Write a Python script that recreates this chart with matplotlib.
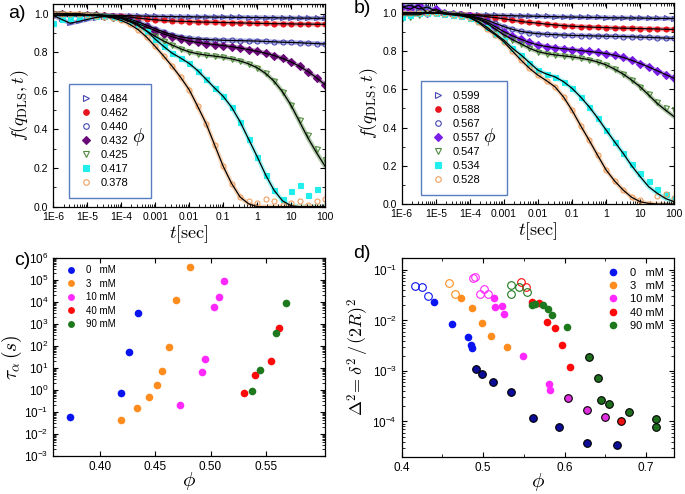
import numpy as np
import matplotlib
matplotlib.use('Agg')
import matplotlib.pyplot as plt
from matplotlib.lines import Line2D
from matplotlib.patches import Rectangle
from matplotlib.ticker import FixedLocator, FixedFormatter, LogLocator, NullFormatter, MultipleLocator

plt.rcParams['font.family'] = ['Liberation Sans', 'DejaVu Sans']
plt.rcParams['mathtext.fontset'] = 'custom'
plt.rcParams['mathtext.rm'] = 'Liberation Sans'
plt.rcParams['mathtext.it'] = 'Liberation Sans:italic'
plt.rcParams['xtick.direction'] = 'in'
plt.rcParams['ytick.direction'] = 'in'
plt.rcParams['xtick.top'] = True
plt.rcParams['ytick.right'] = True
plt.rcParams['axes.linewidth'] = 0.9

nan = np.nan

## ---------------- data : panel a / b  (correlation functions) ----------------
t = [1e-6, 1.78e-6, 3.16e-6, 5.62e-6, 1e-5, 1.78e-5, 3.16e-5, 5.62e-5,
     1e-4, 1.78e-4, 3.16e-4, 5.62e-4, 1e-3, 1.78e-3, 3.16e-3, 5.62e-3,
     0.01, 0.0178, 0.0316, 0.0562, 0.1, 0.178, 0.316, 0.562,
     1, 1.78, 3.16, 5.62, 10, 17.8, 31.6, 56.2, 100]

phi_a = ['0.484', '0.462', '0.440', '0.432', '0.425', '0.417', '0.378']
a484 = [0.99, 0.97, 0.95, 0.96, 0.97, 0.98, 0.985, 0.99, 0.99, 0.99, 0.988, 0.987, 0.986, 0.985, 0.985, 0.984, 0.984,
        0.983, 0.983, 0.982, 0.982, 0.981, 0.981, 0.980, 0.980, 0.979, 0.979, 0.978, 0.978, 0.977, 0.977, 0.976, 0.976]
a462 = [1.0, 1.0, 0.995, 0.995, 0.995, 0.995, 0.993, 0.99, 0.987, 0.982, 0.977, 0.972, 0.968, 0.965, 0.962, 0.96, 0.959,
        0.957, 0.956, 0.955, 0.954, 0.953, 0.952, 0.951, 0.950, 0.949, 0.948, 0.948, 0.947, 0.946, 0.946, 0.945, 0.945]
a440 = [1.0, 1.0, 0.995, 0.995, 0.995, 0.993, 0.99, 0.987, 0.982, 0.972, 0.957, 0.94, 0.922, 0.905, 0.891, 0.88, 0.873,
        0.869, 0.866, 0.864, 0.862, 0.861, 0.86, 0.859, 0.858, 0.856, 0.854, 0.852, 0.851, 0.849, 0.847, 0.845, 0.843]
a432 = [1.0, 1.0, 0.995, 0.995, 0.995, 0.993, 0.99, 0.985, 0.978, 0.965, 0.948, 0.93, 0.912, 0.895, 0.88, 0.868, 0.858,
        0.851, 0.845, 0.84, 0.835, 0.829, 0.822, 0.814, 0.805, 0.795, 0.783, 0.768, 0.75, 0.727, 0.7, 0.668, 0.632]
a425 = [1.0, 1.0, 0.995, 0.995, 0.995, 0.992, 0.988, 0.982, 0.974, 0.958, 0.937, 0.91, 0.882, 0.858, 0.837, 0.818, 0.802,
        0.792, 0.785, 0.78, 0.774, 0.766, 0.755, 0.74, 0.72, 0.69, 0.65, 0.595, 0.525, 0.45, 0.37, 0.30, 0.24]
a417 = [0.95, 0.97, 0.98, 0.985, 0.99, 0.99, 0.99, 0.985, 0.977, 0.962, 0.943, 0.91, 0.868, 0.83, 0.795, 0.77, 0.742,
        0.705, 0.66, 0.615, 0.572, 0.515, 0.44, 0.35, 0.26, 0.165, 0.085, 0.04, 0.08, 0.11, 0.06, 0.09, nan]
a378 = [1.0, 1.0, 1.0, 1.0, 0.995, 0.99, 0.985, 0.978, 0.965, 0.945, 0.917, 0.878, 0.83, 0.78, 0.727, 0.67, 0.606,
        0.52, 0.43, 0.32, 0.21, 0.12, 0.05, 0.03, 0.02, 0.04, 0.03, 0.01, 0.02, 0.03, 0.01, 0.03, 0.04]
fit_a417 = [0.99, 0.99, 0.99, 0.99, 0.99, 0.99, 0.99, 0.985, 0.977, 0.962, 0.943, 0.91, 0.868, 0.83, 0.795, 0.77, 0.742,
            0.705, 0.66, 0.615, 0.572, 0.515, 0.44, 0.35, 0.26, 0.165, 0.085, 0.03, 0.005, 0.0, 0.0, 0.0, 0.0]
fit_a378 = [1.0, 1.0, 1.0, 1.0, 0.995, 0.99, 0.985, 0.978, 0.965, 0.945, 0.917, 0.878, 0.83, 0.78, 0.727, 0.67, 0.606,
            0.52, 0.43, 0.32, 0.21, 0.12, 0.05, 0.015, 0.0, 0.0, 0.0, 0.0, 0.0, 0.0, 0.0, 0.0, 0.0]
fit_a425 = [1.0, 1.0, 0.995, 0.995, 0.995, 0.992, 0.988, 0.982, 0.974, 0.958, 0.937, 0.91, 0.882, 0.858, 0.837, 0.818, 0.802,
            0.792, 0.785, 0.78, 0.774, 0.766, 0.755, 0.74, 0.72, 0.69, 0.65, 0.595, 0.525, 0.44, 0.355, 0.28, 0.21]

phi_b = ['0.599', '0.588', '0.567', '0.557', '0.547', '0.534', '0.528']
b599 = [1.03, 1.04, 1.02, 1.03, 1.01, 1.0, 0.995, 0.992, 0.99, 0.989, 0.988, 0.987, 0.986, 0.985, 0.984, 0.983, 0.982,
        0.981, 0.98, 0.979, 0.978, 0.977, 0.976, 0.976, 0.975, 0.974, 0.974, 0.973, 0.973, 0.972, 0.971, 0.971, 0.97]
b588 = [1.0, 1.0, 1.0, 1.0, 1.0, 0.998, 0.996, 0.993, 0.99, 0.985, 0.98, 0.975, 0.969, 0.962, 0.955, 0.95, 0.946,
        0.941, 0.937, 0.933, 0.93, 0.928, 0.926, 0.924, 0.923, 0.921, 0.92, 0.919, 0.918, 0.917, 0.916, 0.914, 0.913]
b567 = [1.0, 1.0, 1.0, 1.0, 1.0, 0.997, 0.994, 0.99, 0.984, 0.975, 0.962, 0.945, 0.928, 0.914, 0.903, 0.896, 0.891,
        0.888, 0.886, 0.884, 0.882, 0.881, 0.88, 0.879, 0.878, 0.877, 0.876, 0.875, 0.873, 0.872, 0.87, 0.868, 0.866]
b557 = [1.03, 1.02, 1.04, 1.0, 1.02, 1.0, 0.995, 0.99, 0.983, 0.97, 0.952, 0.928, 0.902, 0.88, 0.862, 0.845, 0.832,
        0.824, 0.817, 0.812, 0.808, 0.803, 0.798, 0.793, 0.787, 0.778, 0.767, 0.752, 0.735, 0.717, 0.697, 0.677, 0.657]
b547 = [0.97, 0.98, 0.99, 1.0, 1.0, 0.997, 0.993, 0.988, 0.98, 0.965, 0.945, 0.915, 0.885, 0.86, 0.838, 0.815, 0.797,
        0.787, 0.78, 0.775, 0.77, 0.763, 0.755, 0.743, 0.728, 0.705, 0.68, 0.648, 0.613, 0.575, 0.535, 0.5, 0.49]
b534 = [0.98, 0.99, 1.0, 1.0, 1.0, 0.995, 0.99, 0.985, 0.975, 0.955, 0.925, 0.89, 0.857, 0.815, 0.78, 0.74, 0.70,
        0.68, 0.665, 0.64, 0.605, 0.56, 0.509, 0.45, 0.387, 0.325, 0.265, 0.21, 0.16, 0.12, 0.08, 0.05, 0.03]
b528 = [1.0, 1.0, 1.0, 1.0, 1.0, 0.995, 0.99, 0.985, 0.975, 0.95, 0.915, 0.885, 0.848, 0.8, 0.753, 0.71, 0.674,
        0.645, 0.613, 0.56, 0.49, 0.41, 0.334, 0.255, 0.178, 0.12, 0.073, 0.035, 0.02, 0.0, 0.04, 0.05, 0.03]
fit_b547 = [0.99, 0.99, 0.99, 1.0, 1.0, 0.997, 0.993, 0.988, 0.98, 0.965, 0.945, 0.915, 0.885, 0.86, 0.838, 0.815, 0.797,
            0.787, 0.78, 0.775, 0.77, 0.763, 0.755, 0.743, 0.728, 0.705, 0.68, 0.648, 0.613, 0.57, 0.526, 0.49, 0.456]
fit_b534 = [1.0, 1.0, 1.0, 1.0, 1.0, 0.995, 0.99, 0.985, 0.975, 0.955, 0.925, 0.89, 0.857, 0.815, 0.78, 0.74, 0.70,
            0.68, 0.665, 0.64, 0.605, 0.56, 0.509, 0.45, 0.387, 0.325, 0.265, 0.2, 0.143, 0.09, 0.056, 0.028, 0.012]
fit_b528 = [1.0, 1.0, 1.0, 1.0, 1.0, 0.995, 0.99, 0.985, 0.975, 0.95, 0.915, 0.885, 0.848, 0.8, 0.753, 0.71, 0.674,
            0.645, 0.613, 0.56, 0.49, 0.41, 0.334, 0.255, 0.178, 0.12, 0.073, 0.035, 0.012, 0.003, 0.0, 0.0, 0.0]

data_a = [a484, a462, a440, a432, a425, a417, a378]
fits_a = [a484, a462, a440, a432, fit_a425, fit_a417, fit_a378]
data_b = [b599, b588, b567, b557, b547, b534, b528]
fits_b = [b599, b588, b567, b557, fit_b547, fit_b534, fit_b528]

xtick_vals = [1e-6, 1e-5, 1e-4, 1e-3, 1e-2, 1e-1, 1, 10, 100]
xtick_labels = ['1E-6', '1E-5', '1E-4', '0.001', '0.01', '0.1', '1', '10', '100']

## ---------------- data : panel c  (tau_alpha vs phi) ----------------
conc_labels = ['0   mM', '3   mM', '10 mM', '40 mM', '90 mM']
c_phi_0 = [0.3728, 0.4188, 0.4266, 0.4348]
c_tau_0 = [0.055, 0.68, 50, 2950]
c_phi_3 = [0.4194, 0.4333, 0.4439, 0.4511, 0.4560, 0.4620, 0.4690, 0.4814]
c_tau_3 = [0.042, 0.15, 0.45, 1.7, 7.2, 83, 1.2e4, 3.9e5]
c_phi_10 = [0.4726, 0.4926, 0.4950, 0.5031, 0.5074, 0.5122]
c_tau_10 = [0.21, 6.6, 24, 5800, 1.6e4, 8.7e4]
c_phi_40 = [0.5304, 0.5404, 0.5549, 0.5621]
c_tau_40 = [0.72, 4.7, 20, 620]
c_phi_90 = [0.5379, 0.5443, 0.5588, 0.5685]
c_tau_90 = [0.9, 7.6, 360, 8300]

## ---------------- data : panel d  (Delta^2 vs phi) ----------------
## kind: o = open, f = filled, e = filled with black edge
d_phi_0 = [0.4163, 0.4245, 0.4327, 0.440, 0.462, 0.482, 0.4845, 0.4857, 0.491, 0.4988, 0.5122, 0.5339, 0.5616,
           0.5935, 0.627, 0.664]
d_val_0 = [0.048, 0.046, 0.030, 0.0237, 0.0085, 0.0046, 0.0032, 0.0029, 0.0011, 8.7e-4, 6.1e-4, 3.8e-4, 1.17e-4,
           7.6e-5, 3.8e-5, 3.4e-5]
d_kind_0 = 'ooofffffeeeeeeee'
d_phi_3 = [0.458, 0.4653, 0.4722, 0.4865, 0.498, 0.5094, 0.5294]
d_val_3 = [0.055, 0.033, 0.0285, 0.0175, 0.0091, 0.005, 0.003]
d_kind_3 = 'oofffff'
d_phi_10 = [0.487, 0.4898, 0.4959, 0.5008, 0.5057, 0.513, 0.5151, 0.5237, 0.5261, 0.5494, 0.5808, 0.5824, 0.604,
            0.627, 0.6498]
d_val_10 = [0.069, 0.073, 0.034, 0.042, 0.033, 0.0276, 0.0186, 0.019, 0.0133, 0.002, 5.5e-4, 4.2e-4, 2.9e-4,
            1.7e-4, 1.2e-4]
d_kind_10 = 'ooooofffffffeee'
d_phi_40 = [0.5461, 0.553, 0.5604, 0.5686, 0.578, 0.5878, 0.5971, 0.6065, 0.6694]
d_val_40 = [0.059, 0.047, 0.0237, 0.0226, 0.0095, 0.0071, 0.0032, 0.0012, 1.02e-4]
d_kind_40 = 'ooffffffe'
d_phi_90 = [0.5339, 0.5339, 0.5437, 0.5535, 0.5596, 0.5633, 0.573, 0.5796, 0.5845, 0.6033, 0.6298, 0.6412, 0.6445,
            0.655, 0.6784, 0.712, 0.712]
d_val_90 = [0.051, 0.034, 0.045, 0.036, 0.020, 0.021, 0.020, 0.0165, 0.0126, 0.0074, 0.0019, 7.1e-4, 2.7e-4,
            2.2e-4, 1.55e-4, 1.1e-4, 7.9e-5]
d_kind_90 = 'ooooffffffeeeeeee'

## ---------------- styles ----------------
corr_styles_a = [('>', '#4646b4', False), ('o', '#e8141e', True), ('o', '#4646b4', False), ('D', '#6a0a78', True),
                 ('v', '#4f8a3c', False), ('s', '#22eeee', True), ('o', '#f0a060', False)]
corr_styles_b = [('>', '#4646b4', False), ('o', '#e8141e', True), ('o', '#4646b4', False), ('D', '#7a1ee6', True),
                 ('v', '#4f8a3c', False), ('s', '#22eeee', True), ('o', '#f0a060', False)]
conc_colors = ['#0a14f0', '#ff8c1e', '#ff28ff', '#ff0a0a', '#1e781e']
edge_colors = ['#0c0c96', '#ff8c1e', '#e030e0', '#ee1111', '#1e6e1e']
label_font = dict(math_fontfamily='cm', fontsize=13)

fig = plt.figure(figsize=(6.85, 4.94), dpi=100)
ax_a = fig.add_axes([0.0778, 0.5816, 0.3967, 0.4103])
ax_b = fig.add_axes([0.5864, 0.5870, 0.3980, 0.4063])
ax_c = fig.add_axes([0.0778, 0.0775, 0.3967, 0.4008])
ax_d = fig.add_axes([0.5864, 0.0755, 0.3980, 0.4028])


def draw_corr(ax, data, fits, styles, phis, leg_pos, phi_pos):
    handles = []
    for y, yf, (m, c, filled), lab in zip(data, fits, styles, phis):
        ax.plot(t, yf, color=c, lw=3.2, alpha=0.45, zorder=1, solid_capstyle='round')
        ax.plot(t, y, ls='none', marker=m, ms=3.6, mec=c, mfc=c if filled else 'none', mew=0.8, zorder=2)
        ax.plot(t, yf, color='k', lw=0.9, zorder=3)
        handles.append(Line2D([], [], ls='none', marker=m, ms=4, mec=c, mfc=c if filled else 'none', mew=0.8,
                              label=lab))
    ax.set_xscale('log')
    ax.set_xlim(1e-6, 100)
    ax.set_ylim(0, 1.05)
    ax.xaxis.set_major_locator(FixedLocator(xtick_vals))
    ax.xaxis.set_major_formatter(FixedFormatter(xtick_labels))
    ax.xaxis.set_minor_locator(LogLocator(base=10, subs=np.arange(2, 10), numticks=20))
    ax.xaxis.set_minor_formatter(NullFormatter())
    ax.yaxis.set_major_locator(MultipleLocator(0.2))
    ax.yaxis.set_minor_locator(MultipleLocator(0.1))
    ax.yaxis.set_major_formatter(plt.FormatStrFormatter('%.1f'))
    ax.tick_params(labelsize=7.5, length=3.5, width=0.8)
    ax.tick_params(which='minor', length=2, width=0.6)
    ax.set_xlabel(r'$t[\mathrm{sec}]$', labelpad=1, **label_font)
    ax.set_ylabel(r'$f(q_{\mathrm{DLS}},t)$', labelpad=2, **label_font)
    x0, y0, w, h = leg_pos
    ax.add_patch(Rectangle((x0, y0), w, h, transform=ax.transAxes, fill=False, ec='#5a7cc0', lw=1.0, zorder=4))
    ax.legend(handles=handles, loc='upper left', bbox_to_anchor=(x0 + 0.005, y0 + h), frameon=False,
              fontsize=8, handlelength=1.0, handletextpad=0.8, labelspacing=0.36, borderpad=0.4)
    ax.text(phi_pos[0], phi_pos[1], r'$\phi$', transform=ax.transAxes, fontsize=14, math_fontfamily='cm',
            ha='center', va='center')


draw_corr(ax_a, data_a, fits_a, corr_styles_a, phi_a, (0.058, 0.043, 0.302, 0.562), (0.312, 0.344))
draw_corr(ax_b, data_b, fits_b, corr_styles_b, phi_b, (0.070, 0.045, 0.318, 0.569), (0.323, 0.332))

## panel c
c_phis = [c_phi_0, c_phi_3, c_phi_10, c_phi_40, c_phi_90]
c_taus = [c_tau_0, c_tau_3, c_tau_10, c_tau_40, c_tau_90]
for ph, ta, col, lab in zip(c_phis, c_taus, conc_colors, conc_labels):
    ax_c.plot(ph, ta, ls='none', marker='o', ms=5.5, color=col, mec='none', label=lab)
ax_c.set_yscale('log')
ax_c.set_xlim(0.3577, 0.6036)
ax_c.set_ylim(1e-3, 1e6)
ax_c.set_xticks([0.40, 0.45, 0.50, 0.55])
ax_c.xaxis.set_major_formatter(plt.FormatStrFormatter('%.2f'))
ax_c.yaxis.set_major_locator(LogLocator(base=10, numticks=12))
ax_c.yaxis.set_minor_locator(LogLocator(base=10, subs=np.arange(2, 10), numticks=12))
ax_c.yaxis.set_minor_formatter(NullFormatter())
ax_c.tick_params(labelsize=8.5, length=3.5, width=0.8)
ax_c.tick_params(which='minor', length=2, width=0.6)
ax_c.set_xlabel(r'$\phi$', labelpad=-2, math_fontfamily='cm', fontsize=15)
ax_c.set_ylabel(r'$\tau_{\alpha}\,(s)$', labelpad=0, math_fontfamily='cm', fontsize=14)
ax_c.legend(loc='upper left', frameon=False, fontsize=7, handletextpad=0.6, labelspacing=0.35,
            borderaxespad=0.4, markerscale=0.9)

## panel d
d_phis = [d_phi_0, d_phi_3, d_phi_10, d_phi_40, d_phi_90]
d_vals = [d_val_0, d_val_3, d_val_10, d_val_40, d_val_90]
d_kinds = [d_kind_0, d_kind_3, d_kind_10, d_kind_40, d_kind_90]
for ph, va, kinds, col, ecol, lab in zip(d_phis, d_vals, d_kinds, conc_colors, edge_colors, conc_labels):
    ph = np.array(ph)
    va = np.array(va)
    k = np.array(list(kinds))
    ax_d.plot(ph[k == 'o'], va[k == 'o'], ls='none', marker='o', ms=5.5, mfc='none', mec=col, mew=0.8)
    ax_d.plot(ph[k == 'f'], va[k == 'f'], ls='none', marker='o', ms=5.5, color=col, mec='none')
    ax_d.plot(ph[k == 'e'], va[k == 'e'], ls='none', marker='o', ms=5.5, color=ecol, mec='k', mew=0.8)
    ax_d.plot([], [], ls='none', marker='o', ms=5.5, color=col, mec='none', label=lab)
ax_d.set_yscale('log')
ax_d.set_xlim(0.4, 0.7346)
ax_d.set_ylim(2e-5, 0.175)
ax_d.xaxis.set_major_locator(MultipleLocator(0.1))
ax_d.xaxis.set_minor_locator(MultipleLocator(0.05))
ax_d.xaxis.set_major_formatter(plt.FormatStrFormatter('%.1f'))
ax_d.yaxis.set_major_locator(LogLocator(base=10, numticks=12))
ax_d.yaxis.set_minor_locator(LogLocator(base=10, subs=np.arange(2, 10), numticks=12))
ax_d.yaxis.set_minor_formatter(NullFormatter())
ax_d.tick_params(labelsize=8.5, length=3.5, width=0.8)
ax_d.tick_params(which='minor', length=2, width=0.6)
ax_d.set_xlabel(r'$\phi$', labelpad=-2, math_fontfamily='cm', fontsize=15)
ax_d.set_ylabel(r'$\Delta^2\!=\delta^2\,/\,(2R)^2$', labelpad=1, math_fontfamily='cm', fontsize=13)
ax_d.legend(loc='upper right', frameon=False, fontsize=8, handletextpad=0.6, labelspacing=0.3,
            borderaxespad=0.5)

## panel letters
fig.text(0.024, 0.972, 'a)', fontsize=14, ha='center', va='center')
fig.text(0.529, 0.982, 'b)', fontsize=14, ha='center', va='center')
fig.text(0.033, 0.472, 'c)', fontsize=14, ha='center', va='center')
fig.text(0.529, 0.486, 'd)', fontsize=14, ha='center', va='center')

fig.savefig('out.png', dpi=100)
